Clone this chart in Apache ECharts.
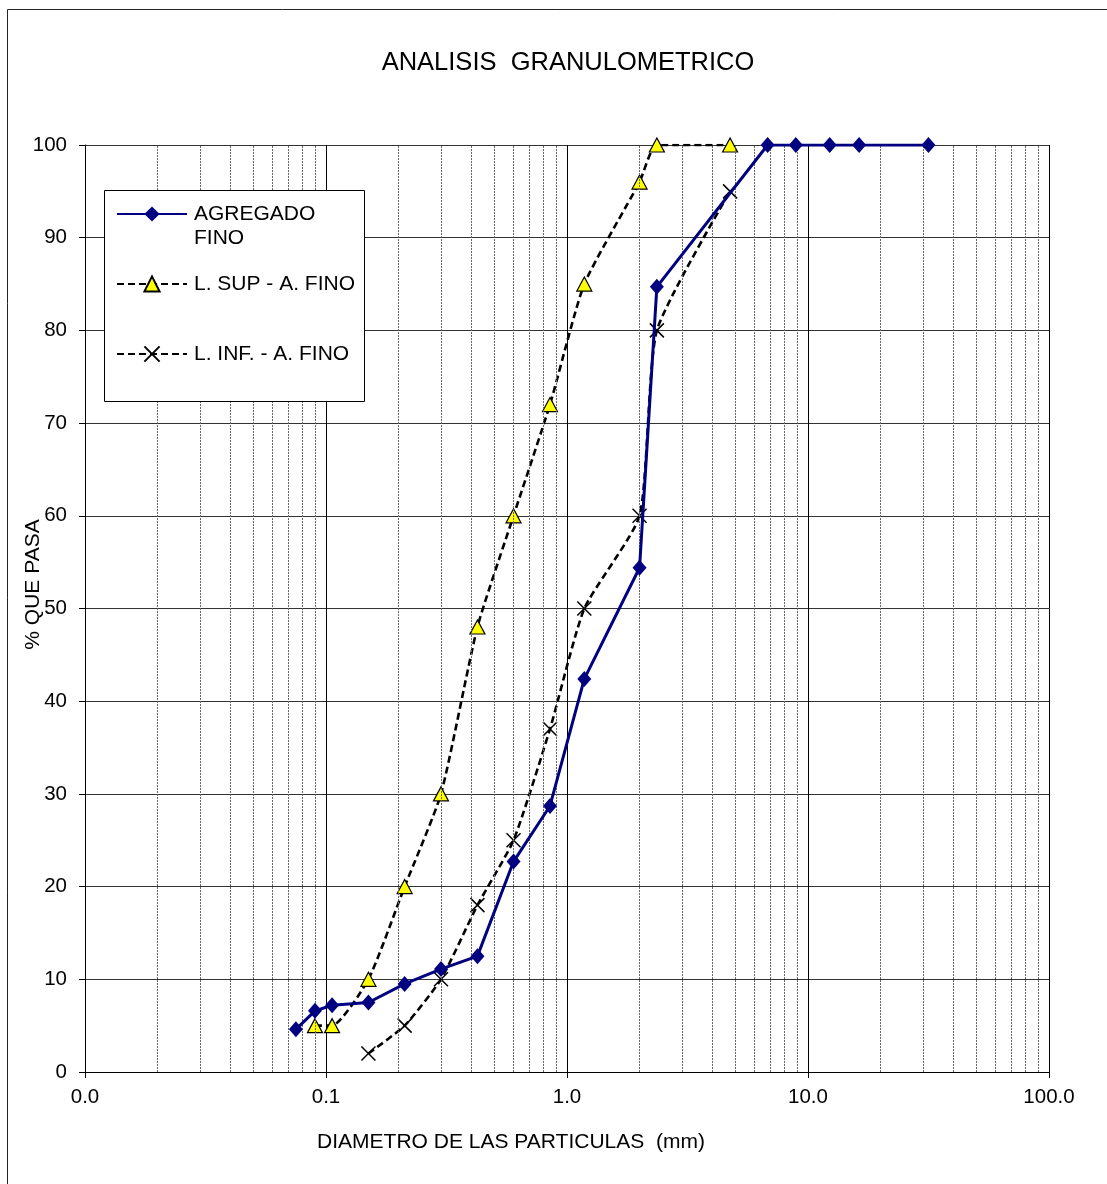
<!DOCTYPE html>
<html>
<head>
<meta charset="utf-8">
<script src="https://cdn.jsdelivr.net/npm/echarts@6/dist/echarts.min.js"></script>
<style>
  html, body { margin: 0; padding: 0; background: #fff; }
  #chart { width: 1107px; height: 1184px; }
</style>
</head>
<body>
<div id="chart"></div>
<script>
// ---- Data ----
const titleText = 'ANALISIS  GRANULOMETRICO';
const xAxisName = 'DIAMETRO DE LAS PARTICULAS  (mm)';
const yAxisName = '% QUE PASA';
const seriesNames = ['AGREGADO\nFINO', 'L. SUP - A. FINO', 'L. INF. - A. FINO'];

const finoDiam = [0.075, 0.09, 0.106, 0.15, 0.212, 0.3, 0.425, 0.6, 0.85, 1.18, 2.0, 2.36, 6.8, 8.9, 12.3, 16.3, 31.6];
const finoPasa = [4.6, 6.6, 7.2, 7.5, 9.5, 11.1, 12.5, 22.7, 28.7, 42.4, 54.4, 84.7, 100, 100, 100, 100, 100];

const supDiam = [0.09, 0.106, 0.15, 0.212, 0.3, 0.425, 0.6, 0.85, 1.18, 2.0, 2.36, 4.75];
const supPasa = [5, 5, 10, 20, 30, 48, 60, 72, 85, 96, 100, 100];

const infDiam = [0.15, 0.212, 0.3, 0.425, 0.6, 0.85, 1.18, 2.0, 2.36, 4.75];
const infPasa = [2, 5, 10, 18, 25, 37, 50, 60, 80, 95];

const xTickValues = [0.01, 0.1, 1, 10, 100];
const xTickLabels = ['0.0', '0.1', '1.0', '10.0', '100.0'];
const minorDecades = [0.01, 0.1, 1, 10];
const minorMultipliers = [2, 3, 4, 5, 6, 7, 8, 9];

// ---- Build ----
const FONT = 'Liberation Sans, Arial, sans-serif';
const zip = (xs, ys) => xs.map((x, i) => [x, ys[i]]);
const minorLines = [];
minorDecades.forEach(d => minorMultipliers.forEach(m => minorLines.push({ xAxis: +(d * m).toPrecision(6) })));

const chart = echarts.init(document.getElementById('chart'), null, { renderer: 'canvas' });
chart.setOption({
  backgroundColor: '#fff',
  animation: false,
  textStyle: { fontFamily: FONT },
  title: {
    text: titleText,
    left: 563, top: 45, textAlign: 'center',
    textStyle: { fontFamily: FONT, fontSize: 25.5, fontWeight: 'normal', color: '#000' }
  },
  grid: { left: 85, right: 58, top: 145, bottom: 112, containLabel: false, outerBoundsMode: 'none' },
  graphic: [
    { type: 'rect', z: -10, silent: true, shape: { x: 7.5, y: 9.5, width: 1200, height: 1300 },
      style: { fill: 'none', stroke: '#222', lineWidth: 1 } },
    { type: 'rect', z: 50, silent: true, shape: { x: 104.5, y: 190.5, width: 260, height: 211 },
      style: { fill: '#fff', stroke: '#000', lineWidth: 1 } }
  ],
  legend: {
    z: 60,
    orient: 'vertical',
    left: 116, top: 178,
    padding: 0,
    itemWidth: 70, itemHeight: 19,
    itemGap: 22,
    data: seriesNames,
    formatter: name => {
      if (name === seriesNames[0]) return ' \n' + name;
      if (name === seriesNames[2]) return ' \n' + name + '\n ';
      return name;
    },
    textStyle: { fontFamily: FONT, fontSize: 21, color: '#000', lineHeight: 24, padding: [0, 0, 0, 2] }
  },
  xAxis: {
    type: 'log', logBase: 10, min: 0.01, max: 100,
    name: xAxisName, nameLocation: 'middle', nameGap: 60, nameMoveOverlap: false,
    nameTextStyle: { fontFamily: FONT, fontSize: 21, color: '#000', padding: [0, 112, 0, 0] },
    axisLine: { show: true, onZero: false, lineStyle: { color: '#000', width: 1 } },
    axisTick: { show: true, inside: false, length: 6, lineStyle: { color: '#000' } },
    axisLabel: {
      fontFamily: FONT, fontSize: 20.5, color: '#000', margin: 15,
      formatter: v => { const i = xTickValues.findIndex(t => Math.abs(Math.log10(t) - Math.log10(v)) < 1e-6); return i >= 0 ? xTickLabels[i] : ''; }
    },
    splitLine: { show: true, lineStyle: { color: '#000', width: 1 } },
    minorTick: { show: false }, minorSplitLine: { show: false }
  },
  yAxis: {
    type: 'value', min: 0, max: 100, interval: 10,
    name: yAxisName, nameLocation: 'middle', nameGap: 41, nameRotate: 90, nameMoveOverlap: false,
    nameTextStyle: { fontFamily: FONT, fontSize: 21, color: '#000', padding: [0, 0, 0, 48] },
    axisLine: { show: true, lineStyle: { color: '#000', width: 1 } },
    axisTick: { show: true, inside: false, length: 6, lineStyle: { color: '#000' } },
    axisLabel: { fontFamily: FONT, fontSize: 20.5, color: '#000', margin: 18 },
    splitLine: { show: true, lineStyle: { color: '#333', width: 1 } }
  },
  series: [
    {
      name: 'minorGrid', type: 'line', data: [], z: 1, silent: true,
      markLine: {
        silent: true, symbol: ['none', 'none'], animation: false,
        label: { show: false },
        lineStyle: { color: '#666', width: 1, type: [2, 1] },
        data: minorLines
      }
    },
    {
      name: seriesNames[0], type: 'line', z: 5,
      data: zip(finoDiam, finoPasa),
      symbol: 'diamond', symbolSize: [14, 16],
      lineStyle: { color: '#000080', width: 3 },
      itemStyle: { color: '#000080', borderColor: '#000080', borderWidth: 0 }
    },
    {
      name: seriesNames[1], type: 'line', z: 4,
      data: zip(supDiam, supPasa), smooth: 0.18,
      symbol: 'triangle', symbolSize: [15, 14],
      lineStyle: { color: '#000', width: 2.6, type: [7, 4] },
      itemStyle: { color: '#ffff00', borderColor: '#000', borderWidth: 1.2 }
    },
    {
      name: seriesNames[2], type: 'line', z: 4,
      data: zip(infDiam, infPasa), smooth: 0.18,
      symbol: 'path://M0,0L10,10M10,0L0,10', symbolSize: 14,
      lineStyle: { color: '#000', width: 2.6, type: [7, 4] },
      itemStyle: { color: 'rgba(0,0,0,0)', borderColor: '#000', borderWidth: 1.5 }
    }
  ]
});
</script>
</body>
</html>
